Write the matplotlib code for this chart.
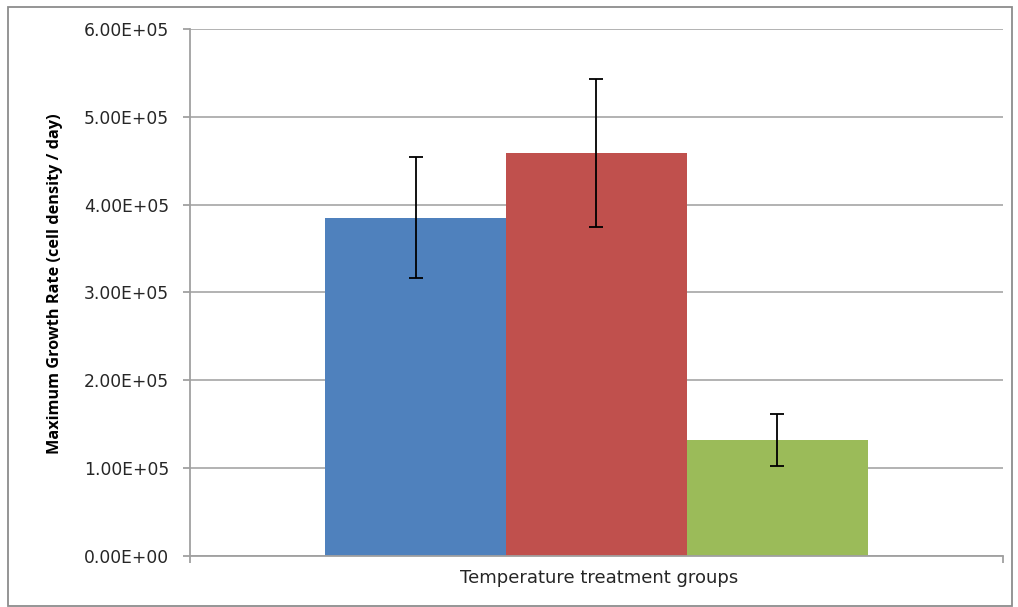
import numpy as np
import matplotlib.pyplot as plt
from matplotlib.patches import Rectangle

# Data
groups = ['Group 1', 'Group 2', 'Group 3']
growth_rate = [3.85e5, 4.59e5, 1.32e5]
growth_err = [0.69e5, 0.84e5, 0.30e5]
bar_colors = ['#4f81bd', '#c0504d', '#9bbb59']
y_ticks = [0, 1e5, 2e5, 3e5, 4e5, 5e5, 6e5]

plt.rcParams.update({'font.family': ['DejaVu Sans']})

fig = plt.figure(figsize=(10.18, 6.07), dpi=100)
ax = fig.add_axes([0.1866, 0.0845, 0.7987, 0.8677])

bar_w = 2 / 9
xs = 0.5 + (np.arange(len(groups)) - 1) * bar_w
ax.bar(xs, growth_rate, width=bar_w, color=bar_colors, zorder=2)
ax.errorbar(xs, growth_rate, yerr=growth_err, fmt='none', ecolor='black',
            elinewidth=1.3, capsize=4.7, capthick=1.3, zorder=3)

ax.set_xlim(0, 1)
ax.set_ylim(0, 6e5)
ax.set_yticks(y_ticks)
ax.set_yticklabels([f'{v:.2E}' for v in y_ticks], fontsize=12.3, color='#262626')
ax.set_xticks([0, 1])
ax.set_xticklabels([])
ax.yaxis.grid(True, color='#a6a6a6', linewidth=1.2, zorder=0)
ax.set_axisbelow(True)

for side in ['top', 'right']:
    ax.spines[side].set_visible(False)
for side in ['left', 'bottom']:
    ax.spines[side].set_color('#a0a0a0')
    ax.spines[side].set_linewidth(1.3)
ax.tick_params(axis='both', color='#a0a0a0', width=1.3, length=5, direction='out')
ax.tick_params(axis='y', pad=10)

ax.set_ylabel('Maximum Growth Rate (cell density / day)', fontsize=11.7,
              fontweight='bold', family='Open Sans', va='center')
ax.yaxis.set_label_coords(-0.166, 0.517)
ax.set_xlabel('Temperature treatment groups', fontsize=13, color='#262626', va='center')
ax.xaxis.set_label_coords(0.503, -0.042)

# chart border
fig.patches.append(Rectangle((8 / 1018, 1 / 607), 1004 / 1018, 599 / 607,
                             transform=fig.transFigure, fill=False,
                             edgecolor='#8c8c8c', linewidth=1.3))

plt.savefig('out.png', dpi=100)
